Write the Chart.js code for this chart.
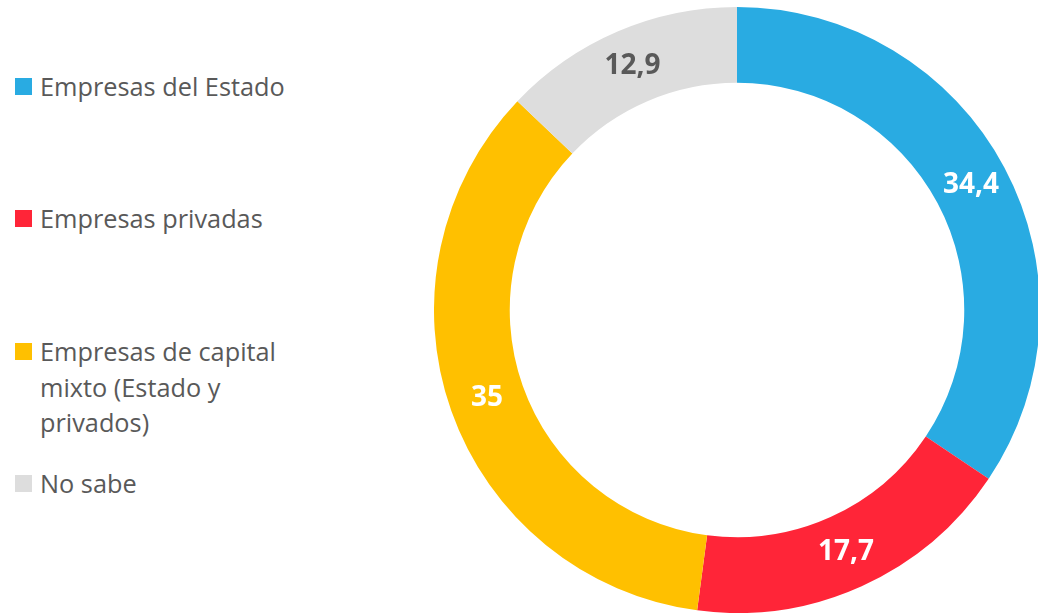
<!DOCTYPE html>
<html>
<head>
<meta charset="utf-8">
<script src="https://cdn.jsdelivr.net/npm/chart.js@4/dist/chart.umd.min.js"></script>
<style>
  html, body { margin: 0; padding: 0; background: #fff; width: 1038px; height: 615px; overflow: hidden; }
  #legend { position: absolute; left: 0; top: 0; font-family: "Open Sans", sans-serif; font-size: 25.3px; color: #595959; }
  .item { position: absolute; left: 15px; display: flex; align-items: flex-start; }
  .swatch { width: 17px; height: 17px; margin-top: 9px; flex: none; }
  .text { margin-left: 8px; line-height: 35.5px; width: 270px; }
  #wrap { position: absolute; left: 434px; top: 7px; width: 606px; height: 606px; }
</style>
</head>
<body>
<div id="legend"></div>
<div id="wrap"><canvas id="c"></canvas></div>
<script>
// Share of responses by type of company
const categories = ["Empresas del Estado", "Empresas privadas", "Empresas de capital mixto (Estado y privados)", "No sabe"];
const legendLines = [["Empresas del Estado"], ["Empresas privadas"], ["Empresas de capital", "mixto (Estado y", "privados)"], ["No sabe"]];
const values = [34.4, 17.7, 35, 12.9];
const valueLabels = ["34,4", "17,7", "35", "12,9"];
const colors = ["#29ABE2", "#FF2538", "#FFC000", "#DDDDDD"];
const labelColors = ["#FFFFFF", "#FFFFFF", "#FFFFFF", "#595959"];

// Legend on the left, one entry per category
const legendTops = [69, 201, 334, 466];
const legend = document.getElementById("legend");
categories.forEach((cat, i) => {
  const item = document.createElement("div");
  item.className = "item";
  item.style.top = legendTops[i] + "px";
  const sw = document.createElement("div");
  sw.className = "swatch";
  sw.style.background = colors[i];
  const tx = document.createElement("div");
  tx.className = "text";
  tx.innerHTML = legendLines[i].join("<br>");
  item.appendChild(sw);
  item.appendChild(tx);
  legend.appendChild(item);
});

// Value labels drawn at the middle of each ring segment
const sliceLabels = {
  id: "sliceLabels",
  afterDatasetsDraw(chart) {
    const ctx = chart.ctx;
    const meta = chart.getDatasetMeta(0);
    ctx.save();
    ctx.font = "bold 28px 'Open Sans', sans-serif";
    ctx.textAlign = "center";
    ctx.textBaseline = "middle";
    meta.data.forEach((arc, i) => {
      const p = arc.tooltipPosition();
      ctx.fillStyle = labelColors[i];
      ctx.fillText(valueLabels[i], p.x, p.y);
    });
    ctx.restore();
  }
};

new Chart(document.getElementById("c"), {
  type: "doughnut",
  data: {
    labels: categories,
    datasets: [{
      data: values,
      backgroundColor: colors,
      borderWidth: 0,
      hoverOffset: 0
    }]
  },
  options: {
    responsive: true,
    maintainAspectRatio: false,
    animation: false,
    cutout: "75%",
    layout: { padding: 0 },
    plugins: {
      legend: { display: false },
      tooltip: { enabled: false }
    }
  },
  plugins: [sliceLabels]
});
</script>
</body>
</html>
